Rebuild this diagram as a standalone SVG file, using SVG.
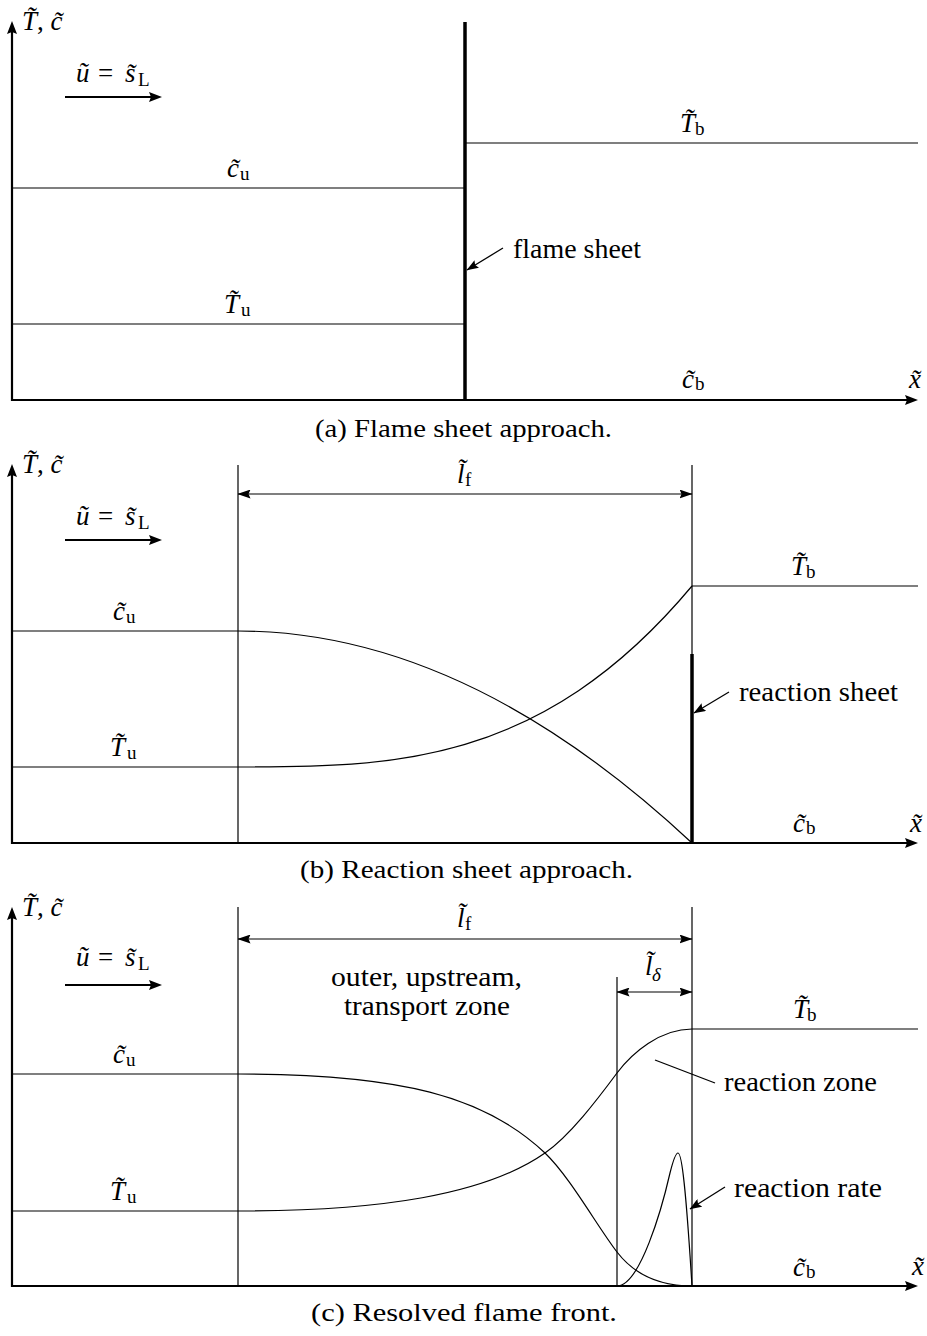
<svg xmlns="http://www.w3.org/2000/svg" width="927" height="1336" viewBox="0 0 927 1336">
<defs>
<style>
text{font-family:"Liberation Serif","Times New Roman",serif;font-size:27px;fill:#000}
.i{font-style:italic}
.s{font-size:19px;font-style:normal}
.si{font-size:19px;font-style:italic}
.cap{font-size:26px}
.ax{stroke:#000;stroke-width:2.2;fill:none}
.ln{stroke:#000;stroke-width:1.2;fill:none}
.th{stroke:#000;stroke-width:3.5;fill:none}
.ld{stroke:#000;stroke-width:1.3;fill:none}
</style>
<marker id="ax" markerUnits="userSpaceOnUse" viewBox="0 0 13 10" refX="8" refY="5" markerWidth="13" markerHeight="10" orient="auto"><path d="M0,0 L13,5 L0,10 L2,5 z" fill="#000"/></marker>
<marker id="dm" markerUnits="userSpaceOnUse" viewBox="0 0 13 9" refX="12.5" refY="4.5" markerWidth="13" markerHeight="9" orient="auto-start-reverse"><path d="M0,0 L13,4.5 L0,9 L2,4.5 z" fill="#000"/></marker>
<marker id="ld" markerUnits="userSpaceOnUse" viewBox="0 0 12 9" refX="11.5" refY="4.5" markerWidth="12" markerHeight="9" orient="auto"><path d="M0,0 L12,4.5 L0,9 L2,4.5 z" fill="#000"/></marker>
</defs>
<rect width="927" height="1336" fill="#fff"/>

<!-- Panel (a) -->
<g id="panel-a">
  <g id="a-connectors">
    <line class="ax" x1="12" y1="401" x2="12" y2="26" marker-end="url(#ax)"/>
    <line class="ax" x1="11" y1="400" x2="913" y2="400" marker-end="url(#ax)"/>
    <line class="ax" x1="65" y1="97" x2="157" y2="97" marker-end="url(#ax)"/>
    <line class="ln" x1="12" y1="188" x2="465" y2="188"/>
    <line class="ln" x1="12" y1="324" x2="465" y2="324"/>
    <line class="ln" x1="465" y1="143" x2="918" y2="143"/>
    <line class="th" x1="465" y1="22" x2="465" y2="400"/>
    <line class="ld" x1="503" y1="248" x2="467" y2="270" marker-end="url(#ld)"/>
  </g>
  <g id="a-labels">
    <text x="22" y="30"><tspan class="i">T̃</tspan>, <tspan class="i">c̃</tspan></text>
    <text y="82"><tspan class="i" x="76">ũ</tspan><tspan x="98">=</tspan><tspan class="i" x="125">s̃</tspan><tspan class="s" x="138" y="86">L</tspan></text>
    <text y="177"><tspan class="i" x="227">c̃</tspan><tspan class="s" x="240" y="180">u</tspan></text>
    <text y="313"><tspan class="i" x="224">T̃</tspan><tspan class="s" x="241" y="316">u</tspan></text>
    <text y="132"><tspan class="i" x="680">T̃</tspan><tspan class="s" x="695" y="135">b</tspan></text>
    <text y="388"><tspan class="i" x="682">c̃</tspan><tspan class="s" x="695" y="390">b</tspan></text>
    <text class="i" x="909" y="388">x̃</text>
    <text x="513" y="258" textLength="128" lengthAdjust="spacingAndGlyphs">flame sheet</text>
    <text class="cap" x="315" y="437" textLength="297" lengthAdjust="spacingAndGlyphs">(a) Flame sheet approach.</text>
  </g>
</g>

<!-- Panel (b) -->
<g id="panel-b" transform="translate(0,443)">
  <g id="b-connectors">
    <line class="ax" x1="12" y1="401" x2="12" y2="26" marker-end="url(#ax)"/>
    <line class="ax" x1="11" y1="400" x2="913" y2="400" marker-end="url(#ax)"/>
    <line class="ax" x1="65" y1="97" x2="157" y2="97" marker-end="url(#ax)"/>
    <line class="ln" x1="238" y1="22" x2="238" y2="400"/>
    <line class="ln" x1="692" y1="22" x2="692" y2="400"/>
    <line class="ln" x1="238" y1="51" x2="692" y2="51" marker-start="url(#dm)" marker-end="url(#dm)"/>
    <path class="ln" d="M12,188 H238 Q465,188 692,400"/>
    <path class="ln" d="M12,324 H238 C389.3,324 540.7,324 692,143"/>
    <line class="ln" x1="692" y1="143" x2="918" y2="143"/>
    <line class="th" x1="692" y1="211" x2="692" y2="400"/>
    <line class="ld" x1="729" y1="249" x2="694" y2="270" marker-end="url(#ld)"/>
  </g>
  <g id="b-labels">
    <text x="22" y="30"><tspan class="i">T̃</tspan>, <tspan class="i">c̃</tspan></text>
    <text y="82"><tspan class="i" x="76">ũ</tspan><tspan x="98">=</tspan><tspan class="i" x="125">s̃</tspan><tspan class="s" x="138" y="86">L</tspan></text>
    <text y="40"><tspan class="i" x="457">l̃</tspan><tspan class="s" x="465" y="43">f</tspan></text>
    <text y="177"><tspan class="i" x="113">c̃</tspan><tspan class="s" x="126" y="180">u</tspan></text>
    <text y="313"><tspan class="i" x="110">T̃</tspan><tspan class="s" x="127" y="316">u</tspan></text>
    <text y="132"><tspan class="i" x="791">T̃</tspan><tspan class="s" x="806" y="135">b</tspan></text>
    <text y="389"><tspan class="i" x="793">c̃</tspan><tspan class="s" x="806" y="391">b</tspan></text>
    <text class="i" x="910" y="389">x̃</text>
    <text x="739" y="258" textLength="159" lengthAdjust="spacingAndGlyphs">reaction sheet</text>
    <text class="cap" x="300" y="435" textLength="333" lengthAdjust="spacingAndGlyphs">(b) Reaction sheet approach.</text>
  </g>
</g>

<!-- Panel (c) -->
<g id="panel-c" transform="translate(0,886)">
  <g id="c-connectors">
    <line class="ax" x1="12" y1="401" x2="12" y2="26" marker-end="url(#ax)"/>
    <line class="ax" x1="11" y1="400" x2="913" y2="400" marker-end="url(#ax)"/>
    <line class="ax" x1="65" y1="99" x2="157" y2="99" marker-end="url(#ax)"/>
    <line class="ln" x1="238" y1="21" x2="238" y2="400"/>
    <line class="ln" x1="692" y1="21" x2="692" y2="400"/>
    <line class="ln" x1="617" y1="91" x2="617" y2="400"/>
    <line class="ln" x1="238" y1="53" x2="692" y2="53" marker-start="url(#dm)" marker-end="url(#dm)"/>
    <line class="ln" x1="617" y1="106" x2="692" y2="106" marker-start="url(#dm)" marker-end="url(#dm)"/>
    <path class="ln" d="M12,188 H238 C400,188 485,210 545,267 C570,291 597,340 617,366 C632,385.5 655,400 692,400"/>
    <path class="ln" d="M12,325 H238 C380,325 485,309 545,267 C570,249.5 597,214 617,187 C632,167 660,143 692,143"/>
    <path class="ln" d="M617,400 C640,400 662,322 670,287 C674,271 676,267 678,267 C682,267 686,304 692,400"/>
    <line class="ln" x1="692" y1="143" x2="918" y2="143"/>
    <line class="ld" x1="655" y1="174" x2="715" y2="197"/>
    <line class="ld" x1="725" y1="301" x2="690" y2="323" marker-end="url(#ld)"/>
  </g>
  <g id="c-labels">
    <text x="22" y="30"><tspan class="i">T̃</tspan>, <tspan class="i">c̃</tspan></text>
    <text y="80"><tspan class="i" x="76">ũ</tspan><tspan x="98">=</tspan><tspan class="i" x="125">s̃</tspan><tspan class="s" x="138" y="84">L</tspan></text>
    <text y="41"><tspan class="i" x="457">l̃</tspan><tspan class="s" x="465" y="44">f</tspan></text>
    <text y="89"><tspan class="i" x="645">l̃</tspan><tspan class="si" x="652" y="95">δ</tspan></text>
    <text x="331" y="100" textLength="191" lengthAdjust="spacingAndGlyphs">outer, upstream,</text>
    <text x="344" y="129" textLength="166" lengthAdjust="spacingAndGlyphs">transport zone</text>
    <text y="177"><tspan class="i" x="113">c̃</tspan><tspan class="s" x="126" y="180">u</tspan></text>
    <text y="314"><tspan class="i" x="110">T̃</tspan><tspan class="s" x="127" y="317">u</tspan></text>
    <text y="132"><tspan class="i" x="793">T̃</tspan><tspan class="s" x="807" y="135">b</tspan></text>
    <text y="390"><tspan class="i" x="793">c̃</tspan><tspan class="s" x="806" y="392">b</tspan></text>
    <text class="i" x="912" y="389">x̃</text>
    <text x="724" y="205" textLength="153" lengthAdjust="spacingAndGlyphs">reaction zone</text>
    <text x="734" y="311" textLength="148" lengthAdjust="spacingAndGlyphs">reaction rate</text>
    <text class="cap" x="311" y="435" textLength="306" lengthAdjust="spacingAndGlyphs">(c) Resolved flame front.</text>
  </g>
</g>
</svg>
